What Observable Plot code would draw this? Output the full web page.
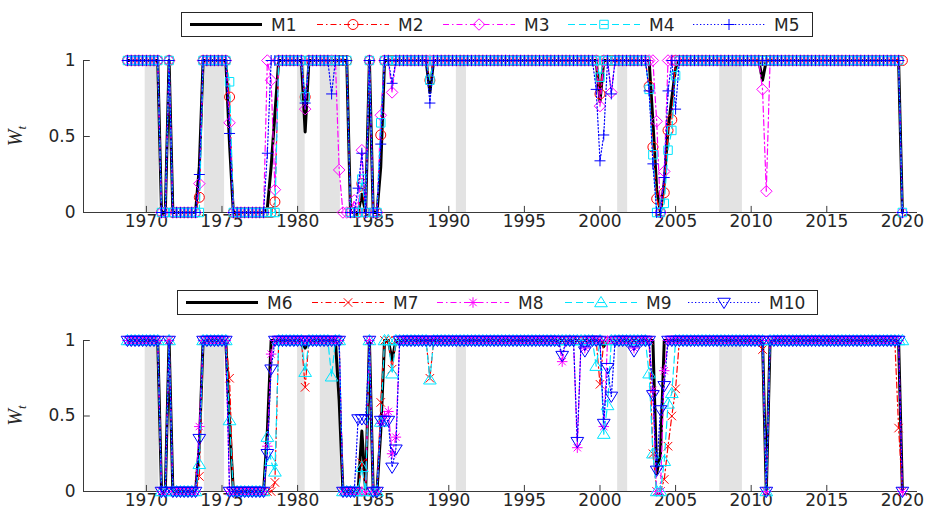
<!DOCTYPE html>
<html><head><meta charset="utf-8">
<script src="https://cdn.jsdelivr.net/npm/d3@7"></script>
<script src="https://cdn.jsdelivr.net/npm/@observablehq/plot@0.6"></script>
<style>
body{margin:0;background:#fff;}
#chart{width:930px;height:519px;position:relative;overflow:hidden;}
#chart svg{display:block;}
</style></head><body><div id="chart"></div>
<script>
// ---------------- data ----------------
const firstQuarter = 1968.75, lastQuarter = 2020.0;           // quarterly observations
const recessionStart = [1969.92, 1973.83, 1980.0, 1981.5, 1990.5, 2001.17, 2007.92];
const recessionEnd   = [1970.83, 1975.17, 1980.5, 1982.83, 1991.17, 2001.83, 2009.42];
const xTicks = [1970, 1975, 1980, 1985, 1990, 1995, 2000, 2005, 2010, 2015, 2020];
const yTicks = [0, 0.5, 1];
const topNames = ["M1", "M2", "M3", "M4", "M5"];
const bottomNames = ["M6", "M7", "M8", "M9", "M10"];
// spells where the weight is 0 (otherwise 1), per panel
const topZeroSpells = [[1971.0, 1971.25], [1971.75, 1973.25], [1975.75, 1977.75], [1983.5, 1984.5], [1985.0, 1985.25], [2020.0, 2020.0]];
const bottomZeroSpells = [[1971.0, 1971.25], [1971.75, 1973.25], [1975.75, 1977.75], [1983.0, 1984.5], [1985.0, 1985.25], [2011.0, 2011.0], [2020.0, 2020.0]];
// quarters where a model departs from the regime above: [quarter, W]
const m1Points = [[1973.5,0.3],[1975.5,0.45],[1978.0,0.03],[1978.25,0.3],[1978.5,0.65],[1980.5,0.53],[1984.25,0.12],[1985.5,0.3],[1988.75,0.79],[2000.0,0.73],[2003.5,0.6],[2003.75,0.15],[2004.0,0],[2004.25,0.2],[2004.5,0.55],[2004.75,0.75],[2005.0,0.95],[2010.75,0.87]];
const m2Points = [[1973.5,0.1],[1975.5,0.76],[1978.0,0],[1978.25,0],[1978.5,0.07],[1980.5,0.76],[1984.25,0.19],[1985.5,0.51],[1988.75,0.87],[2000.0,0.78],[2003.25,0.83],[2003.5,0.43],[2003.75,0.09],[2004.0,0],[2004.25,0.13],[2004.5,0.54],[2004.75,0.61],[2020.0,1]];
const m3Points = [[1973.5,0.19],[1975.5,0.59],[1978.25,0.87],[1978.5,0.15],[1980.5,0.68],[1982.75,0.28],[1983.0,0],[1983.25,0],[1983.75,0.08],[1984.25,0.41],[1985.5,0.64],[1986.25,0.79],[2000.0,0.70],[2000.75,0.79],[2003.75,0.6],[2004.0,0],[2004.25,0.27],[2010.75,0.81],[2011.0,0.14]];
const m4Points = [[1973.5,0],[1975.5,0.86],[1978.0,0],[1978.25,0],[1978.5,0],[1980.5,0.76],[1984.25,0.22],[1985.5,0.59],[1988.75,0.87],[2000.0,0.89],[2003.25,0.81],[2003.5,0.38],[2003.75,0],[2004.0,0],[2004.25,0.06],[2004.5,0.41],[2004.75,0.54],[2005.0,0.9]];
const m5Points = [[1973.5,0.25],[1975.5,0.52],[1978.0,0.39],[1980.5,0.72],[1982.25,0.78],[1984.0,0.16],[1984.25,0.39],[1985.5,0.45],[1986.25,0.85],[1988.75,0.72],[1999.75,0.81],[2000.0,0.34],[2000.25,0.51],[2000.75,0.78],[2003.25,0.8],[2003.5,0.32],[2003.75,0],[2004.0,0],[2004.25,0.23],[2004.5,0.8],[2005.0,0.68]];
const m6Points = [[1973.5,0.3],[1975.5,0.45],[1978.0,0.4],[1980.5,0.95],[1982.75,0.6],[1984.25,0.4],[1985.5,0.4],[1986.25,0.87],[2000.25,0.96],[2003.75,0.12],[2004.0,0.25]];
const m7Points = [[1973.5,0.1],[1975.5,0.75],[1978.0,0],[1978.25,0],[1978.5,0.06],[1980.5,0.69],[1984.25,0.19],[1985.5,0.59],[1986.25,0.81],[1988.75,0.75],[2000.0,0.71],[2003.5,0.25],[2003.75,0],[2004.0,0],[2004.25,0.08],[2004.5,0.3],[2004.75,0.5],[2005.0,0.68],[2010.75,0.94],[2019.75,0.42]];
const m8Points = [[1973.5,0.43],[1975.5,0],[1978.0,0.3],[1978.25,0.91],[1985.5,0.45],[1985.75,0.5],[1986.0,0.53],[1986.25,0.25],[1986.5,0.36],[1997.5,0.86],[1998.5,0.29],[1999.0,0.95],[2000.25,0.43],[2002.25,0.95],[2003.5,0.67],[2003.75,0],[2004.0,0],[2004.25,0.8]];
const m9Points = [[1973.5,0.18],[1975.5,0.47],[1978.0,0.36],[1978.25,0.2],[1978.5,0.13],[1980.5,0.79],[1982.25,0.76],[1984.25,0.16],[1985.5,0.46],[1986.25,0.78],[1988.75,0.74],[1999.75,0.83],[2000.25,0.38],[2000.5,0.57],[2003.25,0.78],[2003.5,0.25],[2003.75,0],[2004.0,0],[2004.25,0.2],[2004.5,0.58],[2004.75,0.65],[2020.0,1]];
const m10Points = [[1973.5,0.35],[1975.5,0],[1978.0,0.25],[1978.25,0.81],[1984.0,0.48],[1984.25,0.48],[1984.5,0.48],[1985.5,0.47],[1985.75,0.47],[1986.0,0.47],[1986.25,0.16],[1986.5,0.28],[1997.5,0.9],[1998.5,0.33],[1999.0,0.93],[2000.25,0.45],[2000.5,0.82],[2000.75,0.63],[2002.25,0.93],[2003.5,0.64],[2003.75,0.14],[2004.0,0.54],[2004.25,0.7]];

// ---------------- build tables ----------------
const quarters = d3.range(0, Math.round((lastQuarter - firstQuarter) * 4) + 1).map(i => firstQuarter + i / 4);
function build(zeroSpells, points) {
  const over = new Map(points.map(([t, v]) => [t.toFixed(2), v]));
  return quarters.map(t => {
    const k = t.toFixed(2);
    const inZero = zeroSpells.some(([a, b]) => t >= a - 1e-6 && t <= b + 1e-6);
    return {t, v: over.has(k) ? over.get(k) : (inZero ? 0 : 1)};
  });
}
const recessions = recessionStart.map((s, i) => ({start: s, end: recessionEnd[i]}));

// ---------------- symbols (MATLAB-like) ----------------
const R = s => Math.sqrt(s / Math.PI);
const sym = {
  circle: {draw(c, s) { const r = R(s); c.moveTo(r, 0); c.arc(0, 0, r, 0, 2 * Math.PI); c.closePath(); }},
  diamond: {draw(c, s) { const r = R(s) * 1.15; c.moveTo(0, -r); c.lineTo(r, 0); c.lineTo(0, r); c.lineTo(-r, 0); c.closePath(); }},
  square: {draw(c, s) { const r = R(s) * 0.85; c.moveTo(-r, -r); c.lineTo(r, -r); c.lineTo(r, r); c.lineTo(-r, r); c.closePath(); }},
  plus: {draw(c, s) { const r = R(s) * 1.1; c.moveTo(-r, 0); c.lineTo(r, 0); c.moveTo(0, -r); c.lineTo(0, r); }},
  times: {draw(c, s) { const r = R(s) * 0.85; c.moveTo(-r, -r); c.lineTo(r, r); c.moveTo(-r, r); c.lineTo(r, -r); }},
  asterisk: {draw(c, s) { const r = R(s) * 1.05, d = r * 0.7; c.moveTo(-r, 0); c.lineTo(r, 0); c.moveTo(0, -r); c.lineTo(0, r); c.moveTo(-d, -d); c.lineTo(d, d); c.moveTo(-d, d); c.lineTo(d, -d); }},
  triUp: {draw(c, s) { const r = R(s) * 1.1; c.moveTo(0, -r); c.lineTo(r * 1.05, r * 0.7); c.lineTo(-r * 1.05, r * 0.7); c.closePath(); }},
  triDown: {draw(c, s) { const r = R(s) * 1.1; c.moveTo(0, r); c.lineTo(r * 1.05, -r * 0.7); c.lineTo(-r * 1.05, -r * 0.7); c.closePath(); }}
};
const DASHDOT = "6,3,1.5,3", DASHED = "7,4", DOTTED = "1.3,2.2";
const topSeries = [
  {name: topNames[0], data: build(topZeroSpells, m1Points), color: "#000000", width: 3, dash: null, symbol: null},
  {name: topNames[1], data: build(topZeroSpells, m2Points), color: "#ff0000", width: 1.2, dash: DASHDOT, symbol: sym.circle, r: 5},
  {name: topNames[2], data: build(topZeroSpells, m3Points), color: "#ff00ff", width: 1.2, dash: DASHDOT, symbol: sym.diamond, r: 5},
  {name: topNames[3], data: build(topZeroSpells, m4Points), color: "#00e5ff", width: 1.2, dash: DASHED, symbol: sym.square, r: 5},
  {name: topNames[4], data: build(topZeroSpells, m5Points), color: "#0000ff", width: 1.2, dash: DOTTED, symbol: sym.plus, r: 5}
];
const bottomSeries = [
  {name: bottomNames[0], data: build(bottomZeroSpells, m6Points), color: "#000000", width: 3, dash: null, symbol: null},
  {name: bottomNames[1], data: build(bottomZeroSpells, m7Points), color: "#ff0000", width: 1.2, dash: DASHDOT, symbol: sym.times, r: 5},
  {name: bottomNames[2], data: build(bottomZeroSpells, m8Points), color: "#ff00ff", width: 1.2, dash: DASHDOT, symbol: sym.asterisk, r: 5},
  {name: bottomNames[3], data: build(bottomZeroSpells, m9Points), color: "#00e5ff", width: 1.2, dash: DASHED, symbol: sym.triUp, r: 5.5},
  {name: bottomNames[4], data: build(bottomZeroSpells, m10Points), color: "#0000ff", width: 1.2, dash: DOTTED, symbol: sym.triDown, r: 5.5}
];

// ---------------- drawing ----------------
const xDomain = [1965.84, 2021.0];
const axisColor = "#3a3a3a";
const FONT = "'DejaVu Sans', 'Liberation Sans', Arial, sans-serif";

function panel(series, height, marginTop, marginBottom, legendY, legendBox, legendStarts) {
  const marks = [
    Plot.rect(recessions, {x1: "start", x2: "end", y1: 0, y2: 1, fill: "#e3e3e3"}),
    Plot.ruleY([0], {stroke: axisColor, strokeWidth: 1}),
    Plot.ruleX([xDomain[0]], {y1: 0, y2: 1, stroke: axisColor, strokeWidth: 1}),
    Plot.ruleX(xTicks, {y1: 0, y2: 0.04, stroke: axisColor}),
    Plot.ruleY(yTicks, {x1: xDomain[0], x2: xDomain[0] + 0.45, stroke: axisColor})
  ];
  for (const s of series) {
    marks.push(Plot.line(s.data, {x: "t", y: "v", stroke: s.color, strokeWidth: s.width, strokeDasharray: s.dash, strokeLinejoin: "round"}));
    if (s.symbol) marks.push(Plot.dot(s.data, {x: "t", y: "v", symbol: s.symbol, r: s.r, stroke: s.color, fill: "none", strokeWidth: 1}));
  }
  const svg = Plot.plot({
    width: 930, height, marginLeft: 83, marginRight: 13, marginTop, marginBottom,
    style: {fontFamily: FONT, fontSize: "17px", color: "#262626", background: "white", overflow: "visible"},
    x: {domain: xDomain, ticks: xTicks, tickSize: 0, tickPadding: 2, tickFormat: d => String(d), label: null},
    y: {domain: [0, 1], ticks: yTicks, tickSize: 0, tickPadding: 8, tickFormat: d => String(d), label: null},
    marks
  });
  const g = d3.select(svg);
  g.selectAll('[aria-label="x-axis tick label"], [aria-label="y-axis tick label"]')
    .attr("font-size", 17).attr("font-family", FONT);
  // y label W_t
  const yMid = marginTop + (height - marginTop - marginBottom) / 2;
  const lab = g.append("text").attr("transform", `translate(22,${yMid}) rotate(-90)`)
    .attr("text-anchor", "middle").attr("font-family", "'Liberation Serif', 'DejaVu Serif', serif")
    .attr("font-style", "italic").attr("font-size", 20).attr("fill", "#262626");
  lab.append("tspan").text("W");
  lab.append("tspan").attr("font-size", 13).attr("dy", 4).text("t");
  // legend
  const lg = g.append("g").attr("text-anchor", "start");
  lg.append("rect").attr("x", legendBox[0] + 0.5).attr("y", legendY - 11.5).attr("width", legendBox[1] - legendBox[0])
    .attr("height", 24).attr("fill", "white").attr("stroke", "#262626").attr("stroke-width", 1);
  series.forEach((s, i) => {
    const x0 = legendStarts[i], x1 = x0 + 72, cy = legendY + 0.5;
    lg.append("line").attr("x1", x0).attr("x2", x1).attr("y1", cy).attr("y2", cy)
      .attr("stroke", s.color).attr("stroke-width", s.width === 3 ? 3 : 1.2).attr("stroke-dasharray", s.dash);
    if (s.symbol) {
      lg.append("path").attr("d", d3.symbol(s.symbol, Math.PI * s.r * s.r)())
        .attr("transform", `translate(${(x0 + x1) / 2},${cy})`).attr("fill", "none").attr("stroke", s.color).attr("stroke-width", 1);
    }
    lg.append("text").attr("x", x0 + 81).attr("y", cy + 6).attr("text-anchor", "start")
      .attr("font-family", FONT).attr("font-size", 17).attr("fill", "#262626").text(s.name);
  });
  return svg;
}

const root = document.getElementById("chart");
root.appendChild(panel(topSeries, 260, 60, 48, 24, [181, 812], [190, 317, 443, 568, 693]));
root.appendChild(panel(bottomSeries, 259, 80, 28, 42, [177, 817], [186, 312, 437, 565, 688]));
</script>
</body></html>
